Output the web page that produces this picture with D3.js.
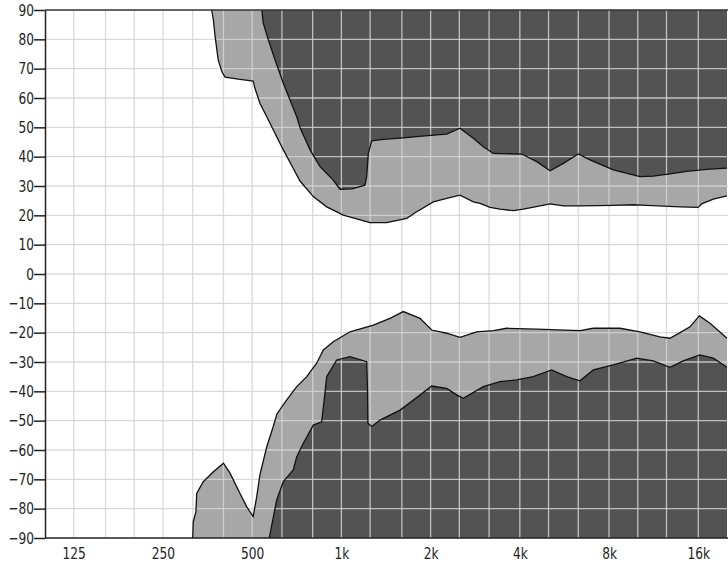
<!DOCTYPE html>
<html>
<head>
<meta charset="utf-8">
<script src="https://cdn.jsdelivr.net/npm/d3@7"></script>
<style>
  body { margin: 0; background: #fff; }
  svg { display: block; }
  .axis text { font-family: "DejaVu Sans", sans-serif; font-size: 16px; fill: #222; }
  .axis path, .axis line { stroke: #222; }
</style>
</head>
<body>
<div id="chart"></div>
<script>
// [frequency Hz, angle deg]
var upperOuter = [[365,90],[370,86.6],[375,80.9],[384,73.0],[395,69.0],[405,67.1],[449,66.4],[504,65.8],
  [511,63.3],[531,58.2],[560,53.6],[605,46.8],[637,42.3],[681,36.8],[725,31.7],[804,26.4],[892,22.9],
  [1015,20.1],[1249,17.5],[1422,17.5],[1661,19.0],[1795,21.2],[2042,24.6],[2266,25.8],[2513,26.9],
  [2786,24.6],[2936,24.1],[3174,22.7],[3430,22.1],[3803,21.6],[4110,22.1],[4680,23.2],[5060,23.9],
  [5610,23.2],[6380,23.2],[8270,23.4],[9660,23.6],[10720,23.4],[13890,22.9],[16000,22.7],[16430,23.9],
  [17980,25.5],[20000,26.6]];

var upperInner = [[539,90],[545,85.5],[567,79.8],[597,73.0],[637,65.0],[671,59.3],[707,53.6],[725,49.9],
  [784,42.3],[847,36.6],[939,32.0],[989,28.9],[1086,29.0],[1201,30.3],[1217,33.2],[1233,41.1],
  [1266,45.4],[1385,45.9],[1577,46.3],[1795,46.8],[2097,47.4],[2266,47.7],[2513,49.7],[2786,46.3],
  [3012,43.4],[3256,41.1],[4060,40.9],[4560,38.3],[5060,35.2],[5610,37.7],[6300,40.9],[6900,38.9],
  [8270,35.5],[10170,33.2],[11280,33.4],[12840,34.1],[14620,35.0],[17090,35.7],[20000,36.1]];

var lowerOuter = [[315,-90],[316.5,-84.4],[323,-81.0],[325,-74.8],[342,-70.8],[370,-67.4],[400,-64.5],
  [421,-67.9],[455,-74.8],[479,-79.3],[504,-82.7],[518,-75.9],[531,-68.5],[560,-58.9],[589,-52.0],
  [606,-47.7],[654,-42.9],[707,-38.4],[764,-35.0],[825,-30.4],[869,-25.9],[939,-23.1],[1069,-19.7],
  [1282,-17.4],[1459,-15.1],[1618,-12.8],[1842,-15.1],[2017,-19.1],[2266,-20.2],[2513,-21.6],
  [2860,-19.7],[3256,-19.3],[3610,-18.5],[4560,-18.8],[6380,-19.3],[7080,-18.5],[8710,-18.5],
  [10170,-19.7],[11880,-21.4],[12840,-21.9],[13890,-20.0],[15000,-18.0],[16130,-14.3],[17530,-16.8],
  [20000,-21.9]];

var lowerInner = [[571,-90],[605,-77.0],[637,-70.8],[688,-66.8],[707,-62.3],[744,-57.7],[804,-51.5],
  [858,-50.4],[880,-40.7],[892,-35.0],[964,-29.3],[1069,-28.2],[1217,-29.9],[1225,-39.5],[1229,-50.9],
  [1266,-52.0],[1350,-49.8],[1577,-46.4],[1749,-43.0],[2017,-38.2],[2266,-39.0],[2449,-41.2],
  [2578,-42.4],[3012,-38.4],[3430,-36.7],[3900,-36.1],[4440,-35.0],[5120,-32.7],[5760,-35.0],
  [6380,-36.4],[7080,-32.7],[8270,-31.0],[9920,-28.7],[11280,-29.6],[12840,-31.8],[14240,-29.6],
  [16210,-27.6],[17980,-28.7],[20000,-31.8]];

var gridFreqs = [125,160,200,250,315,400,500,630,800,1000,1250,1600,2000,2500,3150,4000,5000,6300,
  8000,10000,12500,16000];
var xTickValues = [125,250,500,1000,2000,4000,8000,16000];
var xTickLabels = ["125","250","500","1k","2k","4k","8k","16k"];
var degTicks = d3.range(-90, 91, 10);

var margin = {top: 10, right: 1, bottom: 26, left: 45},
    width = 728 - margin.left - margin.right,
    height = 564 - margin.top - margin.bottom;

var narrow = 0.76; // squeeze labels to look like the condensed original font

var svg = d3.select("#chart")
  .append("svg")
    .attr("width", 728)
    .attr("height", 564)
  .append("g")
    .attr("transform", "translate(" + margin.left + "," + margin.top + ")");

var x = d3.scaleLog().domain([100, 20000]).range([0, width]);
var y = d3.scaleLinear().domain([-90, 90]).range([height, 0]);

var lightFill = "#a7a7a7", darkFill = "#535353";

function topArea() {
  return d3.area().x(function(d) { return x(d[0]); }).y0(y(90)).y1(function(d) { return y(d[1]); });
}
function bottomArea() {
  return d3.area().x(function(d) { return x(d[0]); }).y0(y(-90)).y1(function(d) { return y(d[1]); });
}
var edge = d3.line().x(function(d) { return x(d[0]); }).y(function(d) { return y(d[1]); });

// fills
svg.append("path").datum(upperOuter).attr("d", topArea()).attr("fill", lightFill);
svg.append("path").datum(lowerOuter).attr("d", bottomArea()).attr("fill", lightFill);
svg.append("path").datum(upperInner).attr("d", topArea()).attr("fill", darkFill);
svg.append("path").datum(lowerInner).attr("d", bottomArea()).attr("fill", darkFill);

// grid over the fills
var grid = svg.append("g").attr("stroke", "#d4d4d4").attr("stroke-opacity", 0.85).attr("stroke-width", 1.3);
grid.selectAll("line.v")
  .data(gridFreqs)
  .enter()
  .append("line")
    .attr("class", "v")
    .attr("x1", function(d) { return x(d); })
    .attr("x2", function(d) { return x(d); })
    .attr("y1", 0)
    .attr("y2", height);
grid.selectAll("line.h")
  .data(degTicks.filter(function(d) { return Math.abs(d) < 90; }))
  .enter()
  .append("line")
    .attr("class", "h")
    .attr("x1", 0)
    .attr("x2", width + 1)
    .attr("y1", function(d) { return y(d); })
    .attr("y2", function(d) { return y(d); });

// contour edges
[upperOuter, upperInner, lowerOuter, lowerInner].forEach(function(c) {
  svg.append("path").datum(c)
    .attr("d", edge)
    .attr("fill", "none")
    .attr("stroke", "#111")
    .attr("stroke-width", 1.3);
});

// top border
svg.append("line")
  .attr("x1", 0).attr("x2", width + 1)
  .attr("y1", 0).attr("y2", 0)
  .attr("stroke", "#333").attr("stroke-width", 1.5);

// axes
svg.append("g")
  .attr("class", "axis")
  .call(d3.axisLeft(y).tickValues(degTicks).tickSize(11).tickSizeOuter(0).tickPadding(0))
  .call(function(g) {
    g.selectAll("path, line").attr("stroke-width", 1.5);
    g.selectAll("text").attr("x", -11 / narrow).attr("transform", "scale(" + narrow + ",1)");
  });

svg.append("g")
  .attr("class", "axis")
  .attr("transform", "translate(0," + height + ")")
  .call(d3.axisBottom(x).tickValues(xTickValues)
    .tickFormat(function(d, i) { return xTickLabels[i]; })
    .tickSize(0).tickSizeOuter(0).tickPadding(10))
  .call(function(g) {
    g.select(".domain").attr("stroke-width", 1.5).attr("d", "M0,0H" + (width + 1));
    g.selectAll("text").attr("transform", "scale(" + narrow + ",1)");
  });
</script>
</body>
</html>
